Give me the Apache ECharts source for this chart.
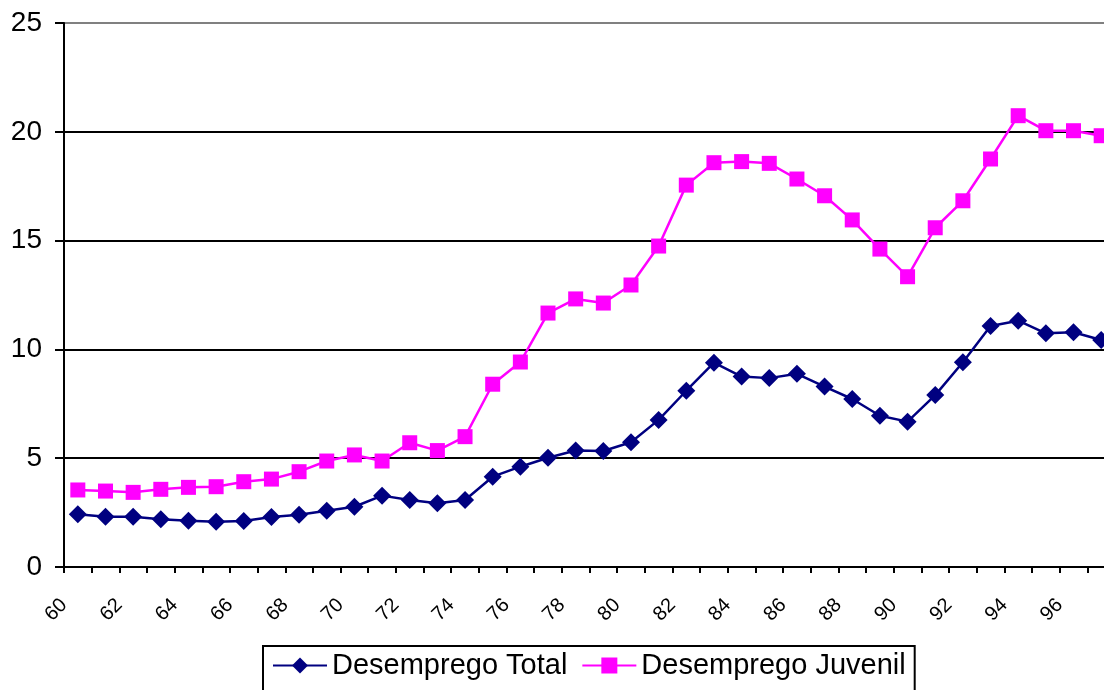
<!DOCTYPE html>
<html>
<head>
<meta charset="utf-8">
<script src="https://cdn.jsdelivr.net/npm/echarts@6/dist/echarts.min.js"></script>
<style>
  html, body { margin: 0; padding: 0; background: #fff; overflow: hidden; }
  #chart { width: 1120px; height: 690px; }
</style>
</head>
<body>
<div id="chart"></div>
<script>
// Anos (1960–1997), dois dígitos
const years = ['60','61','62','63','64','65','66','67','68','69',
               '70','71','72','73','74','75','76','77','78','79',
               '80','81','82','83','84','85','86','87','88','89',
               '90','91','92','93','94','95','96','97'];

// Taxa de desemprego total (%)
const desempregoTotal = [2.42, 2.31, 2.31, 2.19, 2.13, 2.08, 2.11, 2.30, 2.40, 2.59,
                         2.77, 3.28, 3.08, 2.93, 3.08, 4.15, 4.61, 5.02, 5.35, 5.33,
                         5.73, 6.76, 8.10, 9.39, 8.75, 8.68, 8.88, 8.29, 7.72, 6.95,
                         6.68, 7.90, 9.41, 11.08, 11.32, 10.74, 10.79, 10.43];

// Taxa de desemprego juvenil (%)
const desempregoJuvenil = [3.54, 3.49, 3.43, 3.57, 3.66, 3.69, 3.92, 4.04, 4.38, 4.87,
                           5.15, 4.87, 5.71, 5.35, 5.99, 8.40, 9.42, 11.67, 12.32, 12.13,
                           12.96, 14.75, 17.55, 18.58, 18.63, 18.55, 17.83, 17.06, 15.95, 14.61,
                           13.34, 15.59, 16.83, 18.75, 20.74, 20.05, 20.05, 19.82];

// Rótulos nas divisões entre anos (um a mais que as categorias)
const tickLabels = years.concat(['98']);

const FONT = '"Liberation Sans", Arial, sans-serif';

const chart = echarts.init(document.getElementById('chart'), null, { renderer: 'canvas' });

chart.setOption({
  animation: false,
  backgroundColor: '#fff',
  textStyle: { fontFamily: FONT },
  grid: { left: 64, top: 23, width: 1051, height: 544, containLabel: false },
  xAxis: [
    {
      type: 'category',
      data: years,
      boundaryGap: true,
      axisLine: { lineStyle: { color: '#000', width: 2 } },
      axisTick: { show: true, interval: 0, length: 6, lineStyle: { color: '#000', width: 2 } },
      axisLabel: { show: false },
      splitLine: { show: false }
    },
    {
      type: 'category',
      data: tickLabels,
      boundaryGap: false,
      position: 'bottom',
      axisLine: { show: false },
      axisTick: { show: false },
      axisLabel: {
        interval: 1,
        rotate: 45,
        margin: 35,
        fontSize: 20,
        color: '#000',
        fontFamily: FONT,
        formatter: (v) => (v === '98' ? '' : v)
      },
      splitLine: { show: false }
    }
  ],
  yAxis: {
    type: 'value',
    min: 0,
    max: 25,
    interval: 5,
    axisLine: { show: true, lineStyle: { color: '#000', width: 2 } },
    axisTick: { show: true, length: 9, lineStyle: { color: '#000', width: 2 } },
    axisLabel: { fontSize: 28, color: '#000', margin: 22, fontFamily: FONT },
    splitLine: {
      show: true,
      lineStyle: { color: ['#000', '#000', '#000', '#000', '#000', '#808080'], width: 2 }
    }
  },
  legend: {
    left: 263,
    top: 646,
    orient: 'horizontal',
    data: ['Desemprego Total', 'Desemprego Juvenil'],
    itemWidth: 54,
    itemHeight: 20,
    itemGap: 14,
    padding: [5, 9, 24, 9],
    borderColor: '#000',
    borderWidth: 2,
    backgroundColor: '#fff',
    textStyle: { fontSize: 29, color: '#000', fontFamily: FONT }
  },
  series: [
    {
      name: 'Desemprego Total',
      type: 'line',
      xAxisIndex: 0,
      data: desempregoTotal,
      symbol: 'diamond',
      symbolSize: [18, 18],
      showAllSymbol: true,
      lineStyle: { color: '#000080', width: 2.5 },
      itemStyle: { color: '#000080' },
      z: 3
    },
    {
      name: 'Desemprego Juvenil',
      type: 'line',
      xAxisIndex: 0,
      data: desempregoJuvenil,
      symbol: 'rect',
      symbolSize: [15, 15],
      showAllSymbol: true,
      lineStyle: { color: '#FF00FF', width: 2.5 },
      itemStyle: { color: '#FF00FF' },
      z: 4
    }
  ]
});
</script>
</body>
</html>
